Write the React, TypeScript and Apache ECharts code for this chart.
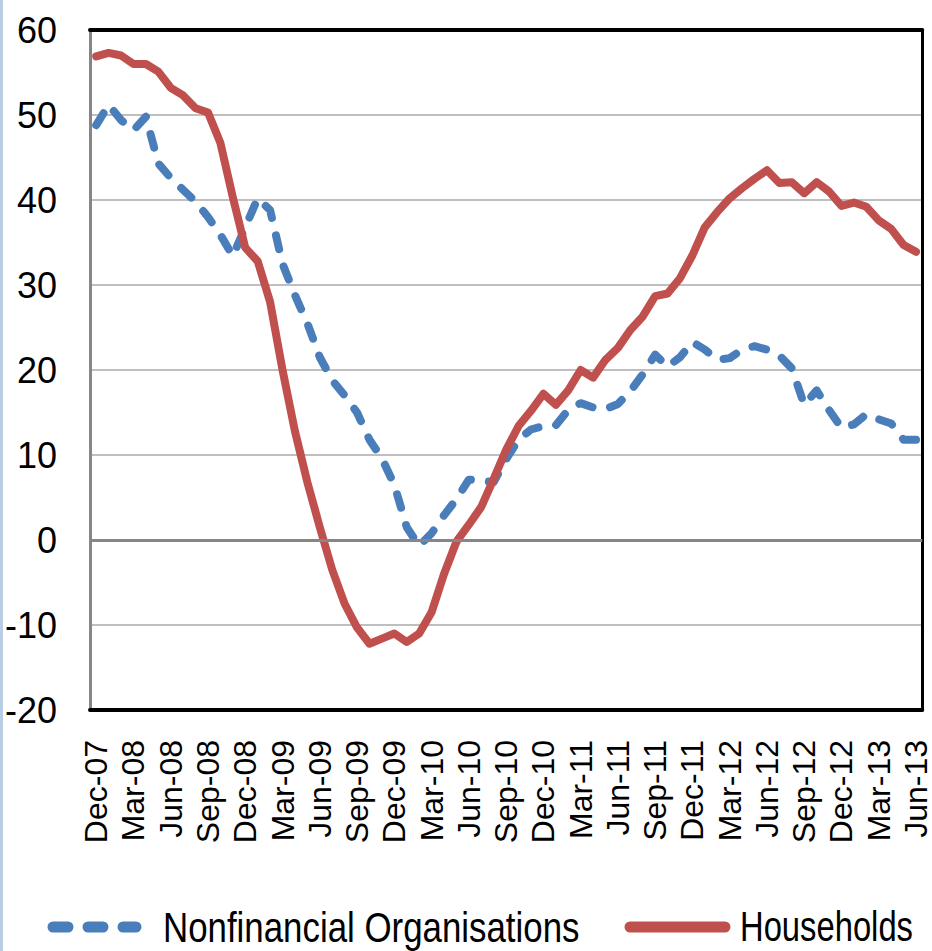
import React, { useEffect, useRef } from "react";
import * as echarts from "echarts";

const months: string[] = [
  "Dec-07",
  "Jan-08", "Feb-08", "Mar-08", "Apr-08", "May-08", "Jun-08", "Jul-08", "Aug-08", "Sep-08", "Oct-08", "Nov-08", "Dec-08",
  "Jan-09", "Feb-09", "Mar-09", "Apr-09", "May-09", "Jun-09", "Jul-09", "Aug-09", "Sep-09", "Oct-09", "Nov-09", "Dec-09",
  "Jan-10", "Feb-10", "Mar-10", "Apr-10", "May-10", "Jun-10", "Jul-10", "Aug-10", "Sep-10", "Oct-10", "Nov-10", "Dec-10",
  "Jan-11", "Feb-11", "Mar-11", "Apr-11", "May-11", "Jun-11", "Jul-11", "Aug-11", "Sep-11", "Oct-11", "Nov-11", "Dec-11",
  "Jan-12", "Feb-12", "Mar-12", "Apr-12", "May-12", "Jun-12", "Jul-12", "Aug-12", "Sep-12", "Oct-12", "Nov-12", "Dec-12",
  "Jan-13", "Feb-13", "Mar-13", "Apr-13", "May-13", "Jun-13",
];

const nonfinancial: number[] = [
  48.8, 51.2, 49.4, 48.2, 49.8, 44.3, 42.6, 41.2, 39.8, 38.0, 35.9, 33.4, 36.8,
  40.2, 38.8, 32.5, 28.8, 25.5, 21.5, 18.8, 17.0, 15.0, 11.8, 9.6, 6.5,
  1.5, -0.7, 0.8, 2.9, 4.8, 7.1, 7.0, 6.8, 9.5, 11.8, 13.0, 13.4,
  13.5, 15.3, 16.1, 15.6, 15.4, 16.0, 17.5, 19.5, 21.8, 20.4, 21.5, 23.3,
  22.4, 21.2, 21.4, 22.4, 22.8, 22.4, 21.7, 20.2, 15.9, 17.6, 15.3, 13.2,
  13.6, 14.8, 14.2, 13.7, 11.8, 11.8,
];

const households: number[] = [
  56.9, 57.3, 57.0, 56.0, 56.0, 55.1, 53.2, 52.3, 50.8, 50.3, 46.7, 40.3, 34.4,
  32.8, 28.0, 20.0, 12.8, 6.8, 1.5, -3.5, -7.5, -10.3, -12.2, -11.6, -11.0,
  -12.0, -11.0, -8.5, -4.0, -0.2, 1.8, 3.9, 7.2, 10.6, 13.4, 15.2, 17.2,
  15.9, 17.6, 20.0, 19.1, 21.2, 22.6, 24.7, 26.3, 28.7, 29.0, 30.8, 33.5,
  36.8, 38.6, 40.2, 41.4, 42.5, 43.5, 42.0, 42.1, 40.8, 42.1, 41.0, 39.3,
  39.7, 39.2, 37.6, 36.6, 34.7, 33.9,
];

const seriesNames: string[] = ["Nonfinancial Organisations", "Households"];

const yTicks = { min: -20, max: 60, interval: 10 };

const BLUE = "#4A7EBB";
const RED = "#C0504D";

export default function App() {
  const ref = useRef<HTMLDivElement>(null);

  useEffect(() => {
    document.body.style.margin = "0";
    if (!ref.current) return;
    const chart = echarts.init(ref.current, null, { renderer: "svg" });
    const sans = "'Liberation Sans', Arial, sans-serif";
    const legendY = 927;
    chart.setOption({
      animation: false,
      backgroundColor: "#ffffff",
      graphic: [
        {
          type: "rect",
          shape: { x: 0, y: 0, width: 3, height: 951 },
          style: { fill: "#B9CDE5" },
          silent: true,
        },
        {
          type: "line",
          shape: { x1: 53, y1: legendY, x2: 136, y2: legendY },
          style: { stroke: BLUE, lineWidth: 11, lineDash: [15, 20], lineCap: "round" },
          silent: true,
        },
        {
          type: "text",
          x: 163,
          y: legendY,
          scaleX: 0.83,
          style: {
            text: seriesNames[0],
            font: "42px " + sans,
            fill: "#000",
            verticalAlign: "middle",
            align: "left",
          },
          silent: true,
        },
        {
          type: "line",
          shape: { x1: 630, y1: legendY, x2: 725, y2: legendY },
          style: { stroke: RED, lineWidth: 11, lineCap: "round" },
          silent: true,
        },
        {
          type: "text",
          x: 740,
          y: legendY,
          scaleX: 0.78,
          style: {
            text: seriesNames[1],
            font: "42px " + sans,
            fill: "#000",
            verticalAlign: "middle",
            align: "left",
          },
          silent: true,
        },
      ],
      grid: { left: 90, right: 8, top: 30, bottom: 241, containLabel: false },
      xAxis: [
        {
          type: "category",
          data: months,
          boundaryGap: true,
          position: "bottom",
          axisLine: { onZero: false, lineStyle: { color: "#000", width: 4 } },
          axisTick: { show: false },
          splitLine: { show: false },
          axisLabel: {
            interval: 2,
            rotate: 90,
            margin: 30,
            fontSize: 32,
            fontFamily: sans,
            color: "#000",
          },
        },
        {
          type: "category",
          data: months,
          boundaryGap: true,
          position: "top",
          axisLine: { onZero: false, lineStyle: { color: "#000", width: 4 } },
          axisTick: { show: false },
          axisLabel: { show: false },
          splitLine: { show: false },
        },
      ],
      yAxis: [
        {
          type: "value",
          min: yTicks.min,
          max: yTicks.max,
          interval: yTicks.interval,
          position: "left",
          axisLine: { show: true, onZero: false, lineStyle: { color: "#868686", width: 3 } },
          axisTick: { show: false },
          axisLabel: {
            margin: 33,
            fontSize: 36,
            fontFamily: sans,
            color: "#000",
          },
          splitLine: { show: true, lineStyle: { color: "#BFBFBF", width: 2 } },
        },
        {
          type: "value",
          min: yTicks.min,
          max: yTicks.max,
          interval: yTicks.interval,
          position: "right",
          axisLine: { show: true, onZero: false, lineStyle: { color: "#000", width: 3 } },
          axisTick: { show: false },
          axisLabel: { show: false },
          splitLine: { show: false },
        },
      ],
      series: [
        {
          name: "zero",
          type: "line",
          data: months.map(() => null),
          symbol: "none",
          z: 1,
          silent: true,
          markLine: {
            silent: true,
            symbol: ["none", "none"],
            label: { show: false },
            lineStyle: { color: "#868686", width: 3, type: "solid" },
            data: [{ yAxis: 0 }],
          },
        },
        {
          name: seriesNames[0],
          type: "line",
          data: nonfinancial,
          symbol: "none",
          showSymbol: false,
          z: 3,
          lineStyle: { color: BLUE, width: 8, type: [14, 18], cap: "round", join: "round" },
          itemStyle: { color: BLUE },
        },
        {
          name: seriesNames[1],
          type: "line",
          data: households,
          symbol: "none",
          showSymbol: false,
          z: 4,
          lineStyle: { color: RED, width: 8, type: "solid", cap: "round", join: "round" },
          itemStyle: { color: RED },
        },
      ],
    });
    return () => chart.dispose();
  }, []);

  return <div ref={ref} style={{ width: 932, height: 951 }} />;
}
